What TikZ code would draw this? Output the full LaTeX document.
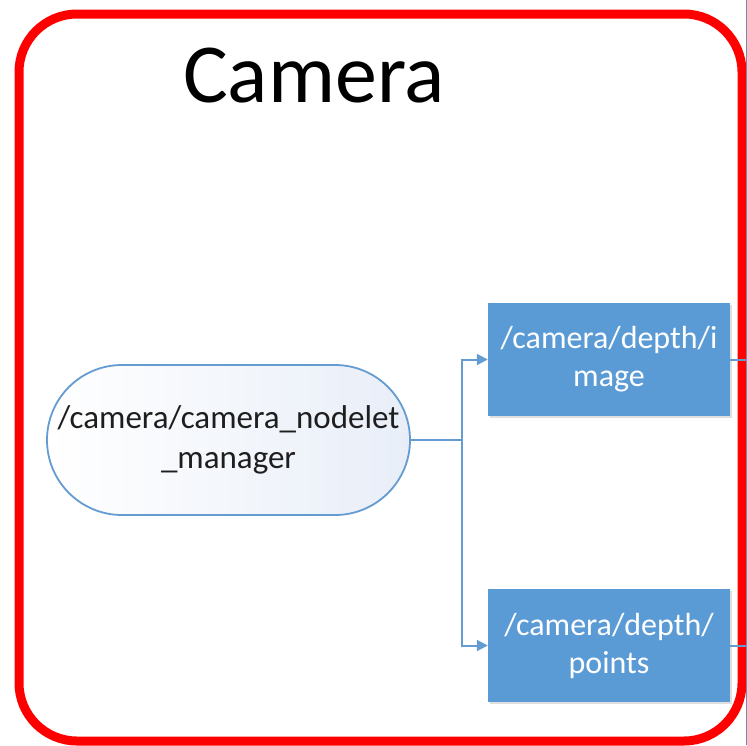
\documentclass[tikz,border=0pt]{standalone}
\usepackage{fontspec}
\setmainfont{Carlito}
\usetikzlibrary{shapes.misc,arrows.meta,shadows}
\definecolor{boxblue}{RGB}{91,155,213}
\definecolor{edgeblue}{RGB}{100,156,210}
\definecolor{paleblue}{RGB}{232,238,248}
\definecolor{textgray}{RGB}{30,30,30}
\definecolor{sideline}{RGB}{125,135,165}
\tikzset{
  frame/.style={draw=red,line width=9pt,rounded corners=58pt},
  title/.style={font=\fontsize{84}{90}\selectfont,text=black,anchor=base,inner sep=0pt},
  manager/.style={rounded rectangle,draw=edgeblue,line width=1.8pt,
    left color=white,right color=paleblue,minimum width=363pt,minimum height=150pt,
    inner sep=0pt,align=center,text=textgray,font=\fontsize{33}{40}\selectfont},
  topic/.style={rectangle,fill=boxblue,minimum width=242pt,minimum height=113pt,
    inner sep=0pt,align=center,text=white,font=\fontsize{32}{38}\selectfont,
    drop shadow={shadow xshift=1.5pt,shadow yshift=-2pt,opacity=0.25,fill=gray}},
  link/.style={draw=edgeblue,line width=2pt},
  arrowlink/.style={link,-{Triangle[length=11pt,width=11pt]}},
}
\begin{document}
\begin{tikzpicture}[x=1pt,y=-1pt]
  \useasboundingbox (0,0) rectangle (747,745);
  % outer group frame
  \draw[frame] (19,14) rectangle (742,741);
  \draw[draw=sideline,line width=1pt] (746,0) -- (746,745);
  \node[title] (cam) at (314,102) {Camera};
  % nodelet manager and its two output topics
  \node[manager] (mgr) at (228.5,440) {/camera/camera\_nodelet\\\_manager};
  \node[topic] (img) at (609,359.5) {/camera/depth/i\\mage};
  \node[topic] (pts) at (609,645.5) {/camera/depth/\\points};
  \coordinate (split) at (462,440);
  \coordinate (imgout) at (746,359.5);
  \coordinate (ptsout) at (746,645.5);
  \draw[link] (mgr.east) -- (split);
  \draw[arrowlink] (split) |- (img.west);
  \draw[arrowlink] (split) |- (pts.west);
  \draw[link] (img.east) -- (imgout);
  \draw[link] (pts.east) -- (ptsout);
\end{tikzpicture}
\end{document}
